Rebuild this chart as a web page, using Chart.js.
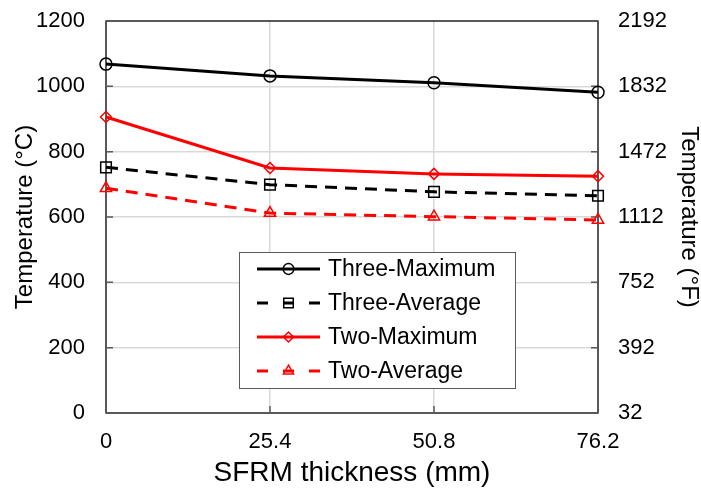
<!DOCTYPE html>
<html>
<head>
<meta charset="utf-8">
<script src="https://cdn.jsdelivr.net/npm/chart.js@4/dist/chart.umd.min.js"></script>
<style>
  html, body { margin: 0; padding: 0; background: #fff; }
  #wrap { width: 701px; height: 491px; }
</style>
</head>
<body>
<div id="wrap"><canvas id="tempChart" width="701" height="491"></canvas></div>
<script>
// SFRM thickness (mm) and peak temperatures (°C)
const thickness = [0, 25.4, 50.8, 76.2];
const threeMax = [1068, 1032, 1011, 982];
const threeAvg = [752, 699, 677, 665];
const twoMax = [906, 750, 732, 725];
const twoAvg = [688, 612, 601, 591];

// tick labels
const xTicks = [0, 25.4, 50.8, 76.2];
const cTicks = [0, 200, 400, 600, 800, 1000, 1200];
const fTicks = [32, 392, 752, 1112, 1472, 1832, 2192];

const FONT = "'Liberation Sans', Arial, sans-serif";

function pts(vals) {
    return thickness.map((x, i) => ({ x: x, y: vals[i] }));
}

function series(label, vals, color, dashed, style, radius) {
    return {
        label: label,
        data: pts(vals),
        borderColor: color,
        backgroundColor: 'transparent',
        borderWidth: 3,
        borderDash: dashed ? [12, 8] : [],
        pointStyle: style,
        pointRadius: radius,
        pointBorderWidth: 1.5,
        pointBorderColor: color,
        pointBackgroundColor: 'rgba(0,0,0,0)',
        tension: 0,
        clip: false
    };
}

// fixed sizes so the plot area lands where it is in the figure
function fixV(width) {
    return s => { s.width = width; s.paddingTop = 0; s.paddingBottom = 0; };
}

// box, inward ticks and the legend drawn inside the plot
const framePlugin = {
    id: 'frame',
    beforeDatasetsDraw(chart) {
        const { ctx, chartArea: a, scales } = chart;
        ctx.save();
        ctx.strokeStyle = '#000';
        ctx.lineWidth = 1.3;
        ctx.strokeRect(a.left, a.top, a.right - a.left, a.bottom - a.top);

        ctx.strokeStyle = '#595959';
        ctx.lineWidth = 1.5;
        ctx.beginPath();
        scales.y.ticks.forEach(t => {
            const y = scales.y.getPixelForValue(t.value);
            ctx.moveTo(a.left, y); ctx.lineTo(a.left + 7, y);
        });
        scales.y2.ticks.forEach(t => {
            const y = scales.y2.getPixelForValue(t.value);
            ctx.moveTo(a.right, y); ctx.lineTo(a.right - 7, y);
        });
        scales.x.ticks.forEach(t => {
            const x = scales.x.getPixelForValue(t.value);
            ctx.moveTo(x, a.bottom); ctx.lineTo(x, a.bottom - 7);
        });
        ctx.stroke();
        ctx.restore();
    },
    afterDraw(chart) {
        const ctx = chart.ctx;
        const bx = 239, by = 252, bw = 276, bh = 136;
        ctx.save();
        ctx.fillStyle = '#fff';
        ctx.fillRect(bx, by, bw, bh);
        ctx.strokeStyle = '#595959';
        ctx.lineWidth = 1;
        ctx.strokeRect(bx + 0.5, by + 0.5, bw, bh);

        chart.data.datasets.forEach((ds, i) => {
            const y = 269 + i * 34;
            const x0 = 257, x1 = 320;
            ctx.strokeStyle = ds.borderColor;
            ctx.lineWidth = 3;
            ctx.setLineDash(ds.borderDash.length ? [11, 15] : []);
            ctx.beginPath();
            ctx.moveTo(x0, y); ctx.lineTo(x1, y);
            ctx.stroke();
            ctx.setLineDash([]);
            ctx.lineWidth = 1.5;
            ctx.fillStyle = 'rgba(0,0,0,0)';
            Chart.helpers.drawPoint(ctx, {
                pointStyle: ds.pointStyle,
                radius: ds.pointRadius * 0.9,
                rotation: 0,
                borderWidth: 1.5
            }, (x0 + x1) / 2, y);
            ctx.fillStyle = '#000';
            ctx.font = '23px ' + FONT;
            ctx.textBaseline = 'middle';
            ctx.textAlign = 'left';
            ctx.fillText(ds.label, 328, y + 1);
        });
        ctx.restore();
    }
};

const ctx = document.getElementById('tempChart').getContext('2d');

const tempChart = new Chart(ctx, {
    type: 'line',
    data: {
        datasets: [
            series('Three-Maximum', threeMax, '#000000', false, 'circle', 6),
            series('Three-Average', threeAvg, '#000000', true, 'rect', 7.5),
            series('Two-Maximum', twoMax, '#ff0000', false, 'rectRot', 5.5),
            series('Two-Average', twoAvg, '#ff0000', true, 'triangle', 6.5)
        ]
    },
    options: {
        responsive: false,
        animation: false,
        layout: { padding: { top: 21, left: 0, right: 0, bottom: 0 } },
        plugins: {
            legend: { display: false },
            tooltip: { enabled: false }
        },
        scales: {
            x: {
                type: 'linear',
                min: 0,
                max: 76.2,
                afterBuildTicks: s => { s.ticks = xTicks.map(v => ({ value: v })); },
                afterFit: s => { s.height = 78; s.paddingLeft = 0; s.paddingRight = 0; },
                ticks: {
                    color: '#000',
                    padding: 16,
                    maxRotation: 0,
                    font: { family: FONT, size: 22 },
                    callback: v => String(v)
                },
                grid: {
                    drawTicks: false,
                    color: c => (c.tick && (c.tick.value === 0 || c.tick.value === 76.2)) ? 'transparent' : '#d9d9d9',
                    lineWidth: 1.5
                },
                border: { display: false },
                title: {
                    display: true,
                    text: 'SFRM thickness (mm)',
                    color: '#000',
                    font: { family: FONT, size: 28, lineHeight: 1 },
                    padding: { top: 0, bottom: 4 }
                }
            },
            y: {
                position: 'left',
                min: 0,
                max: 1200,
                afterBuildTicks: s => { s.ticks = cTicks.map(v => ({ value: v })); },
                afterFit: fixV(106),
                ticks: {
                    color: '#000',
                    padding: 21,
                    font: { family: FONT, size: 22 },
                    callback: v => String(v)
                },
                grid: {
                    drawTicks: false,
                    color: c => (c.tick && (c.tick.value === 0 || c.tick.value === 1200)) ? 'transparent' : '#d9d9d9',
                    lineWidth: 1.5
                },
                border: { display: false },
                title: {
                    display: true,
                    text: 'Temperature (°C)',
                    color: '#000',
                    font: { family: FONT, size: 24, lineHeight: 1 },
                    padding: { top: 13, bottom: 0 }
                }
            },
            y2: {
                position: 'right',
                min: 32,
                max: 2192,
                afterBuildTicks: s => { s.ticks = fTicks.map(v => ({ value: v })); },
                afterFit: fixV(103),
                ticks: {
                    color: '#000',
                    padding: 20,
                    font: { family: FONT, size: 22 },
                    callback: v => String(v)
                },
                grid: { display: false, drawTicks: false },
                border: { display: false },
                title: {
                    display: true,
                    text: 'Temperature (°F)',
                    color: '#000',
                    font: { family: FONT, size: 24, lineHeight: 1 },
                    padding: { top: 0, bottom: 0 }
                }
            }
        }
    },
    plugins: [framePlugin]
});
</script>
</body>
</html>
